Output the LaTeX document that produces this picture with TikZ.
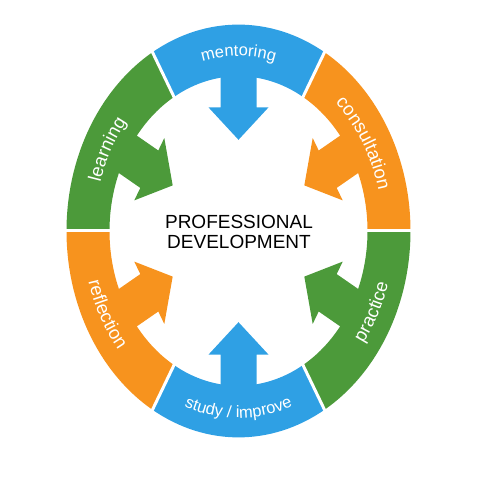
\documentclass[tikz,border=0pt]{standalone}
\usepackage{fontspec}
\setmainfont{Liberation Sans}
\usetikzlibrary{decorations.text}

\definecolor{pdblue}{HTML}{2FA0E4}
\definecolor{pdorange}{HTML}{F7931E}
\definecolor{pdgreen}{HTML}{4C9A3A}

\newcommand\lblfont{\fontsize{16.5}{16.5}\selectfont\color{white}}
\newcommand\sidefont{\fontsize{18.5}{18.5}\selectfont\color{white}}

\begin{document}
\begin{tikzpicture}[x=1pt,y=1pt,
        lbl/.style={decorate,decoration={text along path,text align=center,
                text={|\lblfont|#1}}},
        sidelbl/.style={decorate,decoration={text along path,text align=center,
                text={|\sidefont|#1}}},
        gap/.style={white,line width=3pt}]

  \useasboundingbox (0,0) rectangle (480,480);
  \coordinate (c) at (238.5,249);

  % ring and arrows (circle stretched upwards)
  \begin{scope}[shift={(c)},yscale=1.2]
    \foreach \a/\col in {0/pdorange,60/pdblue,120/pdgreen,
                         180/pdorange,240/pdblue,300/pdgreen}{
      \fill[\col] (\a:172) arc[start angle=\a,end angle=\a+60,radius=172]
            -- (\a+60:129) arc[start angle=\a+60,end angle=\a,radius=129] -- cycle;
      \fill[\col,rotate=\a+30] (135,-18) -- (103,-18) -- (103,-30) -- (76,0)
            -- (103,30) -- (103,18) -- (135,18) -- cycle;
    }
    \foreach \a in {0,60,...,300}
      \draw[gap] (\a:126) -- (\a:175);
  \end{scope}

  % labels along the ring
  \begin{scope}[shift={(c)}]
    \path[lbl=mentoring] (115:146 and 175) arc[start angle=115,end angle=65,x radius=146,y radius=175];
    \path[lbl={study / improve}] (240:156 and 187) arc[start angle=240,end angle=300,x radius=156,y radius=187];
    \path[sidelbl=learning] (172:144 and 173) arc[start angle=172,end angle=132,x radius=144,y radius=173];
    \path[sidelbl=consultation] (55:144 and 173) arc[start angle=55,end angle=7,x radius=144,y radius=173];
    \path[sidelbl=reflection] (186:156 and 187) arc[start angle=186,end angle=230,x radius=156,y radius=187];
    \path[sidelbl=practice] (310:156 and 187) arc[start angle=310,end angle=356,x radius=156,y radius=187];
  \end{scope}

  \node[align=center,font=\fontsize{19}{20.5}\selectfont] (title) at (239,248)
        {PROFESSIONAL\\DEVELOPMENT};

\end{tikzpicture}
\end{document}
